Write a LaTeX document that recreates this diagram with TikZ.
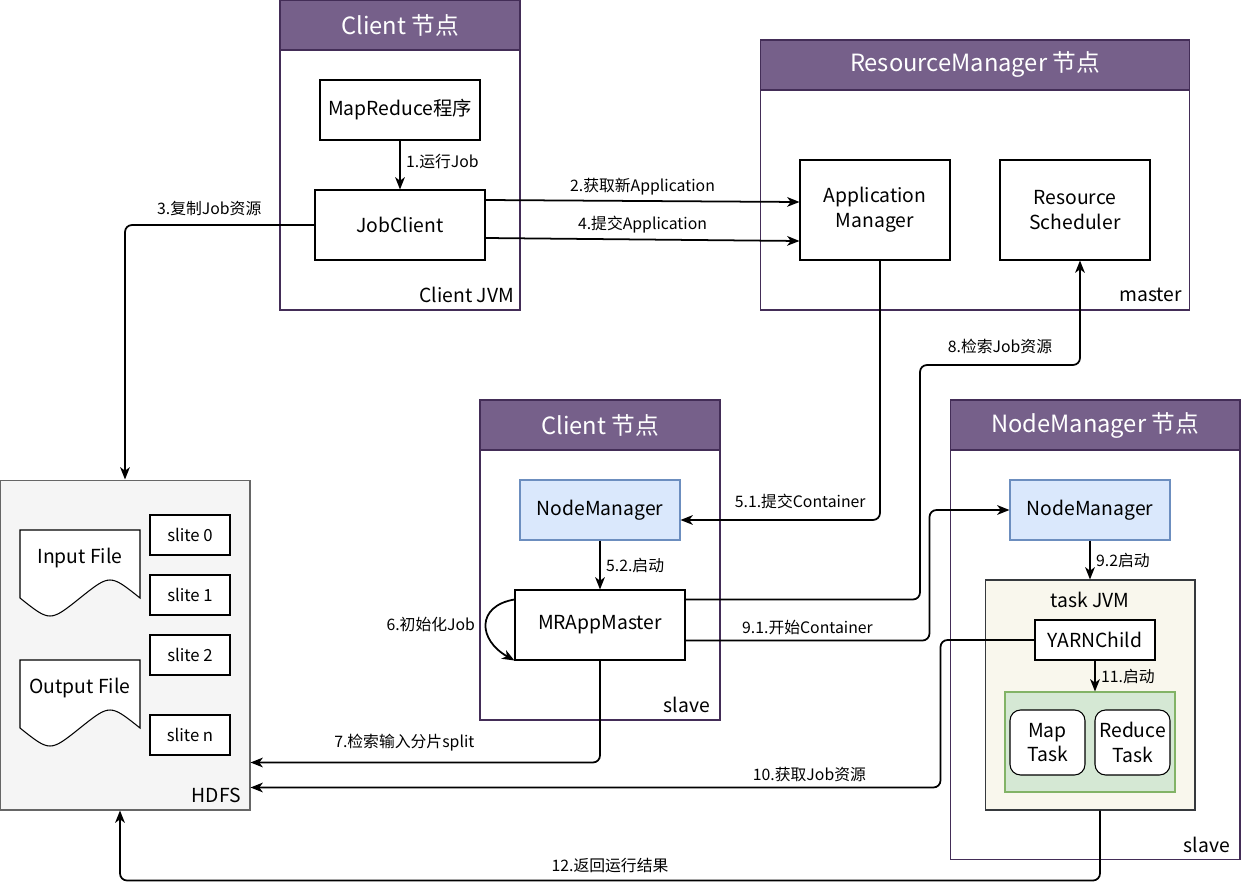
\documentclass[tikz,border=0pt]{standalone}
\usepackage{fontspec}
\setmainfont{Noto Sans CJK SC}
\usepackage{xcolor}
\usepackage{tikz}
\usetikzlibrary{positioning}
\usetikzlibrary{calc,arrows.meta}
\definecolor{grpfill}{HTML}{76608A}
\definecolor{grpdraw}{HTML}{432D57}
\definecolor{nmfill}{HTML}{DAE8FC}
\definecolor{nmdraw}{HTML}{6C8EBF}
\definecolor{jvmfill}{HTML}{F9F7ED}
\definecolor{jvmdraw}{HTML}{36393D}
\definecolor{tskfill}{HTML}{D5E8D4}
\definecolor{tskdraw}{HTML}{82B366}
\definecolor{fsfill}{HTML}{F5F5F5}
\definecolor{fsdraw}{HTML}{666666}
\tikzset{
  boxnode/.style = {align=center, inner sep=0pt, text centered,
    font=\fontsize{11}{14}\selectfont},
  box_w/.style = {boxnode, rectangle, draw=black, fill=white,
    line width=0.6pt},% boite blanche
  box_b/.style = {box_w, draw=nmdraw, fill=nmfill},% boite bleue, NodeManager
  box_t/.style = {box_w, rounded corners=6pt},% tache map / reduce
  box_s/.style = {box_w, font=\fontsize{9.5}{12}\selectfont},% slite
  grp_head/.style = {boxnode, rectangle, draw=grpdraw, fill=grpfill,
    text=white, line width=0.6pt, font=\fontsize{13.5}{16}\selectfont},% titre du noeud
  grp_body/.style = {boxnode, rectangle, draw=grpdraw, fill=white,
    line width=0.6pt},% corps du noeud
  tag/.style = {boxnode, inner sep=1pt},% master, slave ...
  lbl/.style = {boxnode, inner sep=3pt, font=\fontsize{9}{11}\selectfont},% etiquette de fleche
  link/.style = {line width=1pt, rounded corners=4pt}
}
\begin{document}
\begin{tikzpicture}[->,>={Stealth[length=7pt,width=5.5pt,inset=2pt]},
  x=0.02cm, y=-0.02cm]
\useasboundingbox (0,0) rectangle (1242,889);

% Client (haut)
\node [grp_body, minimum width=4.8cm, minimum height=5.2cm] (cli_a) at (400,180) {};
\node [grp_head, minimum width=4.8cm, minimum height=1cm] (cli_a_h) at (400,25) {Client 节点};
\node [tag, anchor=east] (cli_a_t) at (516,295) {Client JVM};
\node [box_w, minimum width=3.2cm, minimum height=1.2cm] (mr_prog) at (400,110) {MapReduce程序};
\node [box_w, minimum width=3.4cm, minimum height=1.4cm] (job_cli) at (400,225) {JobClient};

% ResourceManager
\node [grp_body, minimum width=8.6cm, minimum height=4.4cm] (rm) at (975,200) {};
\node [grp_head, minimum width=8.6cm, minimum height=1cm] (rm_h) at (975,65) {ResourceManager 节点};
\node [tag, anchor=east] (rm_t) at (1184,295) {master};
\node [box_w, minimum width=3cm, minimum height=2cm] (app_mgr) at (875,210) {Application\\Manager};
\node [box_w, minimum width=3cm, minimum height=2cm] (res_sch) at (1075,210) {Resource\\Scheduler};

% Client (milieu)
\node [grp_body, minimum width=4.8cm, minimum height=5.4cm] (cli_b) at (600,585) {};
\node [grp_head, minimum width=4.8cm, minimum height=1cm] (cli_b_h) at (600,425) {Client 节点};
\node [tag, anchor=east] (cli_b_t) at (712,705) {slave};
\node [box_b, minimum width=3.2cm, minimum height=1.2cm] (nm_a) at (600,510) {NodeManager};
\node [box_w, minimum width=3.4cm, minimum height=1.4cm] (mram) at (600,625) {MRAppMaster};

% NodeManager
\node [grp_body, minimum width=5.8cm, minimum height=8.2cm] (nm) at (1095,655) {};
\node [grp_head, minimum width=5.8cm, minimum height=1cm] (nm_h) at (1095,425) {NodeManager 节点};
\node [tag, anchor=east] (nm_t) at (1232,845) {slave};
\node [box_b, minimum width=3.2cm, minimum height=1.2cm] (nm_b) at (1090,510) {NodeManager};
\node [box_w, draw=jvmdraw, fill=jvmfill, minimum width=4.2cm, minimum height=4.6cm] (tsk_jvm) at (1090,695) {};
\node [tag] (tsk_jvm_t) at (1090,600) {task JVM};
\node [box_w, minimum width=2.4cm, minimum height=0.8cm] (yarn) at (1095,640) {YARNChild};
\node [box_w, draw=tskdraw, fill=tskfill, minimum width=3.4cm, minimum height=2cm] (tsk_grp) at (1090,742) {};
\node [box_t, minimum width=1.5cm, minimum height=1.3cm] (map_tsk) at (1047.5,742.5) {Map\\Task};
\node [box_t, minimum width=1.5cm, minimum height=1.3cm] (red_tsk) at (1132.5,742.5) {Reduce\\Task};

% HDFS
\node [box_w, draw=fsdraw, fill=fsfill, minimum width=5cm, minimum height=6.6cm] (hdfs) at (125,645) {};
\node [tag, anchor=east] (hdfs_t) at (243,795) {HDFS};
\draw [-, line width=0.6pt, fill=white] (20,530) -- (140,530) -- (140,598)
  .. controls (110,574) .. (80,598) .. controls (50,622) .. (20,598) -- cycle;
\node [boxnode] (in_file) at (80,558) {Input File};
\draw [-, line width=0.6pt, fill=white] (20,660) -- (140,660) -- (140,728)
  .. controls (110,704) .. (80,728) .. controls (50,752) .. (20,728) -- cycle;
\node [boxnode] (out_file) at (80,688) {Output File};
\node [box_s, minimum width=1.6cm, minimum height=0.8cm] (sl_0) at (190,535) {slite 0};
\node [box_s, minimum width=1.6cm, minimum height=0.8cm] (sl_1) at (190,595) {slite 1};
\node [box_s, minimum width=1.6cm, minimum height=0.8cm] (sl_2) at (190,655) {slite 2};
\node [box_s, minimum width=1.6cm, minimum height=0.8cm] (sl_n) at (190,735) {slite n};

% fleches
\draw [link] (mr_prog) -- (job_cli) node [lbl, right, midway, yshift=2pt] (l1) {1.运行Job};
\draw [link] ($(job_cli.east)+(0,-25)$) -- ($(app_mgr.west)+(0,-8)$)
  node [lbl, above, midway] (l2) {2.获取新Application};
\draw [link] (job_cli.west) -| (hdfs.north)
  node [lbl, above, pos=0.25, xshift=-6, yshift=2pt] (l3) {3.复制Job资源};
\draw [link] ($(job_cli.east)+(0,13)$) -- ($(app_mgr.west)+(0,31)$)
  node [lbl, above, midway] (l4) {4.提交Application};
\draw [link] ($(app_mgr.south)+(5,0)$) |- ($(nm_a.east)+(0,10)$)
  node [lbl, above, pos=0.7, yshift=3pt] (l5a) {5.1.提交Container};
\draw [link] (nm_a) -- (mram) node [lbl, right, midway] (l5b) {5.2.启动};
\draw [link] ($(mram.north west)+(0,10)$) .. controls (476,606) and (478,640) .. (mram.south west)
  node [lbl, left, pos=0.5, xshift=-3pt] (l6) {6.初始化Job};
\draw [link] (mram.south) |- ($(hdfs.south east)+(0,-48)$)
  node [lbl, above, pos=0.78, yshift=3pt] (l7) {7.检索输入分片split};
\draw [link] ($(mram.north east)+(0,10)$) -| (920,365) -| ($(res_sch.south)+(5,0)$)
  node [lbl, above, pos=0.25, yshift=3pt] (l8) {8.检索Job资源};
\draw [link] ($(mram.south east)+(0,-20)$) -| ($(nm_b.west)+(-80,0)$)
  node [lbl, above, pos=0.25] (l9a) {9.1.开始Container} -- (nm_b.west);
\draw [link] (nm_b) -- (tsk_jvm) node [lbl, right, midway] (l9b) {9.2启动};
\draw [link] (yarn.west) -| ($(hdfs.south east)+(690,-23)$) -- ($(hdfs.south east)+(0,-23)$)
  node [lbl, above, pos=0.19] (l10) {10.获取Job资源};
\draw [link] (yarn.south) -- (yarn.south |- tsk_grp.north)
  node [lbl, right, midway] (l11) {11.启动};
\draw [link] ($(tsk_jvm.south)+(10,0)$) -- ++(0,70) -| ($(hdfs.south)+(-5,0)$)
  node [lbl, above, pos=0.25, yshift=1pt] (l12) {12.返回运行结果};
\end{tikzpicture}
\end{document}
